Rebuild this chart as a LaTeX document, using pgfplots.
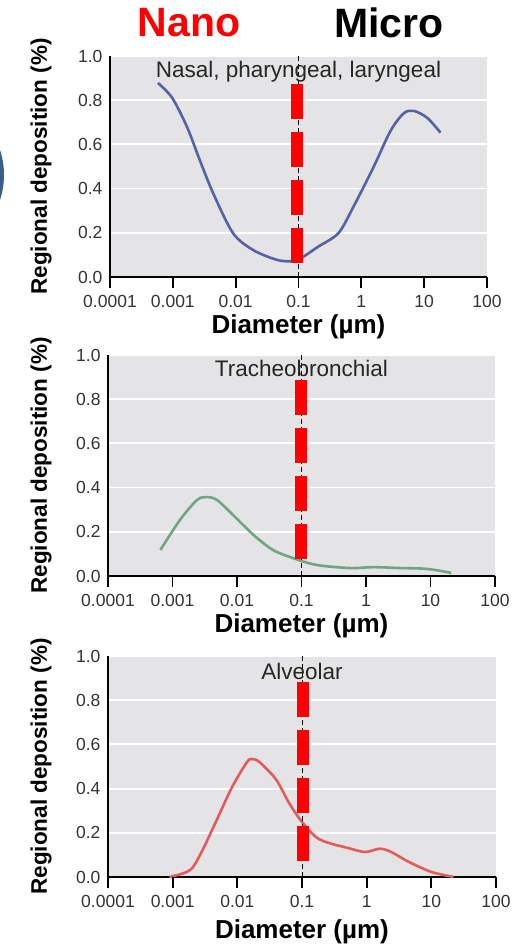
\documentclass[border=0pt]{standalone}
\usepackage{fontspec}
\setmainfont{Liberation Sans}
\usepackage{pgfplots}
\pgfplotsset{compat=1.18}

\definecolor{bggray}{RGB}{228,228,230}
\definecolor{nasal}{RGB}{85,98,165}
\definecolor{trach}{RGB}{112,165,132}
\definecolor{alv}{RGB}{226,92,92}
\definecolor{circblue}{RGB}{58,95,140}

\pgfplotsset{every axis/.append style={
  scale only axis, anchor=south west,
  xmin=1e-4, xmax=100, ymin=0, ymax=1,
  axis lines*=left, axis line style={black, line width=1.8pt},
  axis background/.style={fill=bggray},
  xtick={1e-4,1e-3,1e-2,1e-1,1,10,100},
  xticklabels={0.0001,0.001,0.01,0.1,1,10,100},
  ytick={0,0.2,0.4,0.6,0.8,1.0},
  yticklabels={0.0,0.2,0.4,0.6,0.8,1.0},
  tick align=outside, major tick length=11pt,
  ytick style={draw=none},
  ymajorgrids, grid style={white, line width=1.8pt},
  tick label style={font=\fontsize{17.5}{17.5}\selectfont, text=black!80},
  xticklabel style={yshift=-4pt},
  yticklabel style={xshift=7pt},
  clip=false,
}}
\tikzset{
  ttl/.style={font=\fontsize{22.5}{22.5}\selectfont, text=black!85},
  lab/.style={font=\bfseries\fontsize{26}{26}\selectfont},
  ylab/.style={font=\bfseries\fontsize{22.5}{22.5}\selectfont, rotate=90},
  tk/.style={draw=black, line width=1.8pt},
}

\begin{document}
\begin{tikzpicture}
\useasboundingbox (0,0) rectangle (512pt,946pt);
\fill[circblue] (-76pt,771pt) circle (80pt);

\node[font=\bfseries\fontsize{41}{41}\selectfont, text=red] at (189pt,923pt) {Nano};
\node[font=\bfseries\fontsize{41}{41}\selectfont, text=black] at (389pt,923pt) {Micro};

% panel 1
\begin{semilogxaxis}[at={(110pt,669pt)}, width=377pt, height=221pt, xminorticks=false]
\addplot[nasal, line width=2.6pt, smooth, tension=0.5] coordinates {
 (5.8e-4,0.878) (9.8e-4,0.81) (1.7e-3,0.676) (2.7e-3,0.527) (4.4e-3,0.378)
 (9.1e-3,0.198) (0.019,0.122) (0.046,0.077) (0.081,0.072) (0.117,0.09)
 (0.20,0.135) (0.43,0.198) (0.74,0.315) (1.55,0.495) (2.9,0.66)
 (4.7,0.74) (6.8,0.752) (11.2,0.72) (18.2,0.653)};
\addplot[black, line width=0.9pt, dash pattern=on 5pt off 3pt] coordinates {(0.1,0) (0.1,1)};
\node[ttl] at (axis cs:0.1,0.928) {Nasal, pharyngeal, laryngeal};
\addplot[red, line width=12pt, dash pattern=on 35pt off 13pt] coordinates {(0.095,0.875) (0.095,0.065)};
\node[ylab] at ([xshift=-69pt]rel axis cs:0,0.5) {Regional deposition (\%)};
\node[lab] at ([yshift=-50pt]rel axis cs:0.5,0) {Diameter (µm)};
\end{semilogxaxis}

% panel 2
\begin{semilogxaxis}[at={(108pt,370pt)}, width=387pt, height=221pt, xminorticks=false]
\addplot[trach, line width=2.6pt, smooth, tension=0.5] coordinates {
 (6.5e-4,0.118) (1.3e-3,0.253) (2.4e-3,0.344) (3.4e-3,0.357) (4.9e-3,0.344)
 (8.7e-3,0.276) (0.018,0.186) (0.036,0.118) (0.074,0.081) (0.17,0.05)
 (0.56,0.036) (1.3,0.04) (3.4,0.036) (8.9,0.032) (21,0.014)};
\addplot[black, line width=0.9pt, dash pattern=on 5pt off 3pt] coordinates {(0.1,0) (0.1,1)};
\node[ttl] at (axis cs:0.1,0.941) {Tracheobronchial};
\addplot[red, line width=12pt, dash pattern=on 35pt off 13pt] coordinates {(0.1,0.887) (0.1,0.072)};
\node[ylab] at ([xshift=-67pt]rel axis cs:0,0.5) {Regional deposition (\%)};
\node[lab] at ([yshift=-50pt]rel axis cs:0.5,0) {Diameter (µm)};
\end{semilogxaxis}

% panel 3
\begin{semilogxaxis}[at={(108pt,69pt)}, width=388pt, height=221pt, xminorticks=false]
\addplot[alv, line width=2.6pt, smooth, tension=0.5] coordinates {
 (8.9e-4,0.0) (1.4e-3,0.015) (2.0e-3,0.04) (2.9e-3,0.122) (4.8e-3,0.258)
 (8.3e-3,0.407) (0.0138,0.516) (0.0165,0.534) (0.022,0.52) (0.04,0.44)
 (0.063,0.335) (0.1,0.249) (0.166,0.18) (0.26,0.154) (0.52,0.131)
 (0.95,0.113) (1.6,0.128) (2.4,0.113) (4.5,0.068) (10,0.023) (22,0.0)};
\addplot[black, line width=0.9pt, dash pattern=on 5pt off 3pt] coordinates {(0.1,0) (0.1,1)};
\node[ttl] at (axis cs:0.1,0.928) {Alveolar};
\addplot[red, line width=12pt, dash pattern=on 35pt off 13pt] coordinates {(0.103,0.882) (0.103,0.072)};
\node[ylab] at ([xshift=-67pt]rel axis cs:0,0.5) {Regional deposition (\%)};
\node[lab] at ([yshift=-55pt]rel axis cs:0.5,0) {Diameter (µm)};
\end{semilogxaxis}

% decade tick marks under each x axis
\foreach \x in {110,172.83,235.67,298.5,361.33,424.17,487}
  \draw[tk] ({\x*1pt},669pt) -- ({\x*1pt},658pt);
\foreach \x in {108,172.5,237,301.5,366,430.5,495}
  \draw[tk] ({\x*1pt},370pt) -- ({\x*1pt},359pt);
\foreach \x in {108,172.67,237.33,302,366.67,431.33,496}
  \draw[tk] ({\x*1pt},69pt) -- ({\x*1pt},58pt);
\end{tikzpicture}
\end{document}
